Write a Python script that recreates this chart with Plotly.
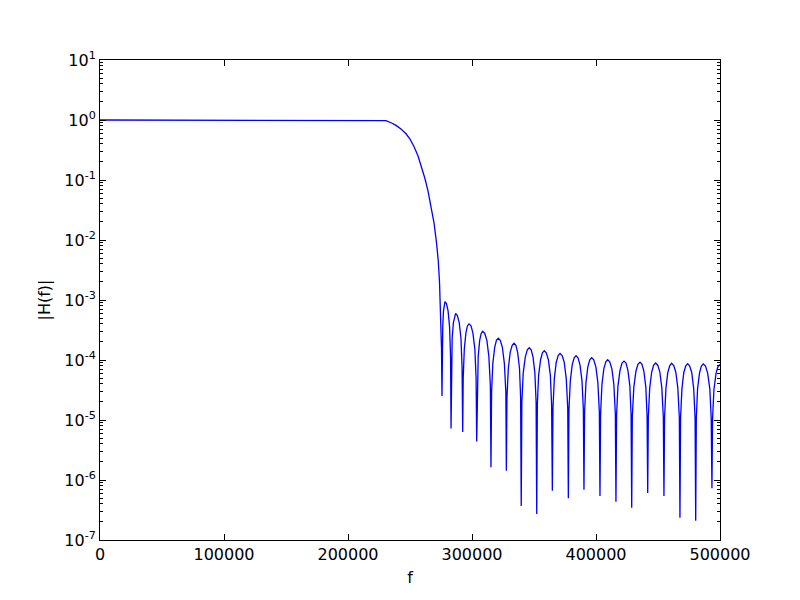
import plotly.graph_objects as go

# Passband and transition band
f_pass = [0, 100000, 200000, 224000, 227200, 230600, 235200, 238700, 242700, 246800,
          250000, 253200, 256500, 259700, 262100, 264500, 266900, 269400, 271400,
          272800, 273800, 274600, 275400, 275800]
h_pass = [1.0, 1.0, 1.0, 1.0, 1.0, 0.977, 0.891, 0.813, 0.708, 0.589,
          0.479, 0.363, 0.251, 0.158, 0.105, 0.0661, 0.038, 0.0191, 0.00891,
          0.00447, 0.002, 7.9e-4, 1.58e-4, 2.5e-5]

# Stopband side lobes, lobe by lobe, each ending at a null
f_stop = [
    276000, 276400, 277000, 277600, 278200, 279400, 280700, 281900, 282700, 283100,
    283400, 284000, 285000, 285900, 286800, 288200, 289700, 291100, 292000, 292500,
    292900, 293800, 295100, 296300, 297600, 299200, 300700, 302300, 303300, 303800,
    304200, 305000, 306200, 307400, 308600, 310300, 312000, 313600, 314800, 315300,
    315800, 316800, 318300, 319700, 321200, 322800, 324500, 326100, 327300, 327700,
    328200, 329300, 330800, 332400, 333900, 335400, 336800, 338300, 339200, 339700,
    340200, 341300, 343000, 344600, 346200, 347700, 349200, 350700, 351700, 352200,
    352700, 353700, 355300, 356800, 358300, 359900, 361600, 363200, 364200, 364800,
    365300, 366400, 367900, 369500, 371000, 372700, 374400, 376000, 377200, 377700,
    378200, 379300, 380800, 382400, 383900, 385500, 387100, 388700, 389800, 390300,
    390800, 391900, 393400, 395000, 396500, 398200, 399900, 401500, 402700, 403200,
    403700, 404800, 406300, 407900, 409400, 411100, 412800, 414400, 415600, 416100,
    416600, 417700, 419400, 421000, 422600, 424200, 425700, 427300, 428300, 428800,
    429300, 430500, 432200, 433800, 435500, 437100, 438600, 440200, 441200, 441700,
    442200, 443300, 444900, 446500, 448100, 449800, 451500, 453100, 454300, 454800,
    455300, 456400, 457900, 459500, 461000, 462700, 464400, 466000, 467200, 467700,
    468200, 469300, 470800, 472400, 473900, 475500, 477200, 478800, 479900, 480400,
    480900, 481900, 483500, 485000, 486500, 488300, 490000, 491800, 492900, 493500,
    494000, 495100, 496800, 498400, 500000,
]
h_stop = [
    1.18e-4, 3.6e-4, 6.6e-4, 8.7e-4, 9.4e-4, 8.7e-4, 6.6e-4, 3.6e-4, 1.18e-4, 7.2e-6,
    7.5e-5, 2.3e-4, 4.2e-4, 5.5e-4, 6.0e-4, 5.5e-4, 4.2e-4, 2.3e-4, 7.5e-5, 6.3e-6,
    5.0e-5, 1.53e-4, 2.83e-4, 3.7e-4, 4.0e-4, 3.7e-4, 2.83e-4, 1.53e-4, 5.0e-5, 4.4e-6,
    3.75e-5, 1.15e-4, 2.12e-4, 2.77e-4, 3.0e-4, 2.77e-4, 2.12e-4, 1.15e-4, 3.75e-5, 1.63e-6,
    2.9e-5, 8.8e-5, 1.63e-4, 2.13e-4, 2.3e-4, 2.13e-4, 1.63e-4, 8.8e-5, 2.9e-5, 1.43e-6,
    2.4e-5, 7.3e-5, 1.34e-4, 1.76e-4, 1.9e-4, 1.76e-4, 1.34e-4, 7.3e-5, 2.4e-5, 3.7e-7,
    2.0e-5, 6.1e-5, 1.13e-4, 1.48e-4, 1.6e-4, 1.48e-4, 1.13e-4, 6.1e-5, 2.0e-5, 2.71e-7,
    1.8e-5, 5.5e-5, 1.01e-4, 1.32e-4, 1.43e-4, 1.32e-4, 1.01e-4, 5.5e-5, 1.8e-5, 6.6e-7,
    1.6e-5, 4.9e-5, 9.1e-5, 1.19e-4, 1.29e-4, 1.19e-4, 9.1e-5, 4.9e-5, 1.6e-5, 4.95e-7,
    1.5e-5, 4.5e-5, 8.3e-5, 1.09e-4, 1.18e-4, 1.09e-4, 8.3e-5, 4.5e-5, 1.5e-5, 6.9e-7,
    1.36e-5, 4.2e-5, 7.7e-5, 1.01e-4, 1.09e-4, 1.01e-4, 7.7e-5, 4.2e-5, 1.36e-5, 5.4e-7,
    1.26e-5, 3.9e-5, 7.1e-5, 9.3e-5, 1.01e-4, 9.3e-5, 7.1e-5, 3.9e-5, 1.26e-5, 4.33e-7,
    1.2e-5, 3.7e-5, 6.8e-5, 8.9e-5, 9.6e-5, 8.9e-5, 6.8e-5, 3.7e-5, 1.2e-5, 3.45e-7,
    1.15e-5, 3.5e-5, 6.5e-5, 8.5e-5, 9.2e-5, 8.5e-5, 6.5e-5, 3.5e-5, 1.15e-5, 6.07e-7,
    1.11e-5, 3.4e-5, 6.3e-5, 8.2e-5, 8.9e-5, 8.2e-5, 6.3e-5, 3.4e-5, 1.11e-5, 5.4e-7,
    1.1e-5, 3.4e-5, 6.2e-5, 8.1e-5, 8.8e-5, 8.1e-5, 6.2e-5, 3.4e-5, 1.1e-5, 2.35e-7,
    1.09e-5, 3.3e-5, 6.2e-5, 8.0e-5, 8.7e-5, 8.0e-5, 6.2e-5, 3.3e-5, 1.09e-5, 2.1e-7,
    1.08e-5, 3.3e-5, 6.1e-5, 7.9e-5, 8.6e-5, 7.9e-5, 6.1e-5, 3.3e-5, 1.08e-5, 7.3e-7,
    1.05e-5, 3.2e-5, 6.0e-5, 7.8e-5, 8.4e-5,
]

x_tickvals = [0, 100000, 200000, 300000, 400000, 500000]
x_ticktext = ["0", "100000", "200000", "300000", "400000", "500000"]
y_exponents = [-7, -6, -5, -4, -3, -2, -1, 0, 1]

y_tickvals = [10.0 ** e for e in y_exponents]
y_ticktext = ["10<sup>%d</sup>" % e for e in y_exponents]
y_minor = [m * 10.0 ** e for e in y_exponents[:-1] for m in range(2, 10)]

font = dict(family="DejaVu Sans", size=16, color="black")

fig = go.Figure()
fig.add_trace(go.Scatter(
    x=f_pass + f_stop, y=h_pass + h_stop, mode="lines",
    line=dict(color="#0000ff", width=1.3), showlegend=False,
))

# the page body adds an 8px offset, so the figure is 784x584 with trimmed margins
fig.update_layout(
    width=784, height=584,
    margin=dict(l=92, r=72, t=52, b=52),
    paper_bgcolor="white", plot_bgcolor="white",
    font=font,
)
fig.update_xaxes(
    range=[0, 500000], tickvals=x_tickvals, ticktext=x_ticktext,
    ticks="inside", ticklen=6, tickcolor="black", tickwidth=1,
    showline=True, linecolor="black", linewidth=1, mirror="ticks",
    showgrid=False, zeroline=False, tickfont=font, automargin=False,
    title=dict(text="f", font=font, standoff=8),
)
fig.update_yaxes(
    type="log", range=[-7, 1], tickvals=y_tickvals, ticktext=y_ticktext,
    ticks="inside", ticklen=6, tickcolor="black", tickwidth=1,
    showline=True, linecolor="black", linewidth=1, mirror="ticks",
    showgrid=False, zeroline=False, tickfont=font, automargin=False,
    minor=dict(tickvals=y_minor, ticks="inside", ticklen=3, tickcolor="black", showgrid=False),
    title=dict(text="|H(f)|", font=font, standoff=9),
)

fig.write_html("out.html")
